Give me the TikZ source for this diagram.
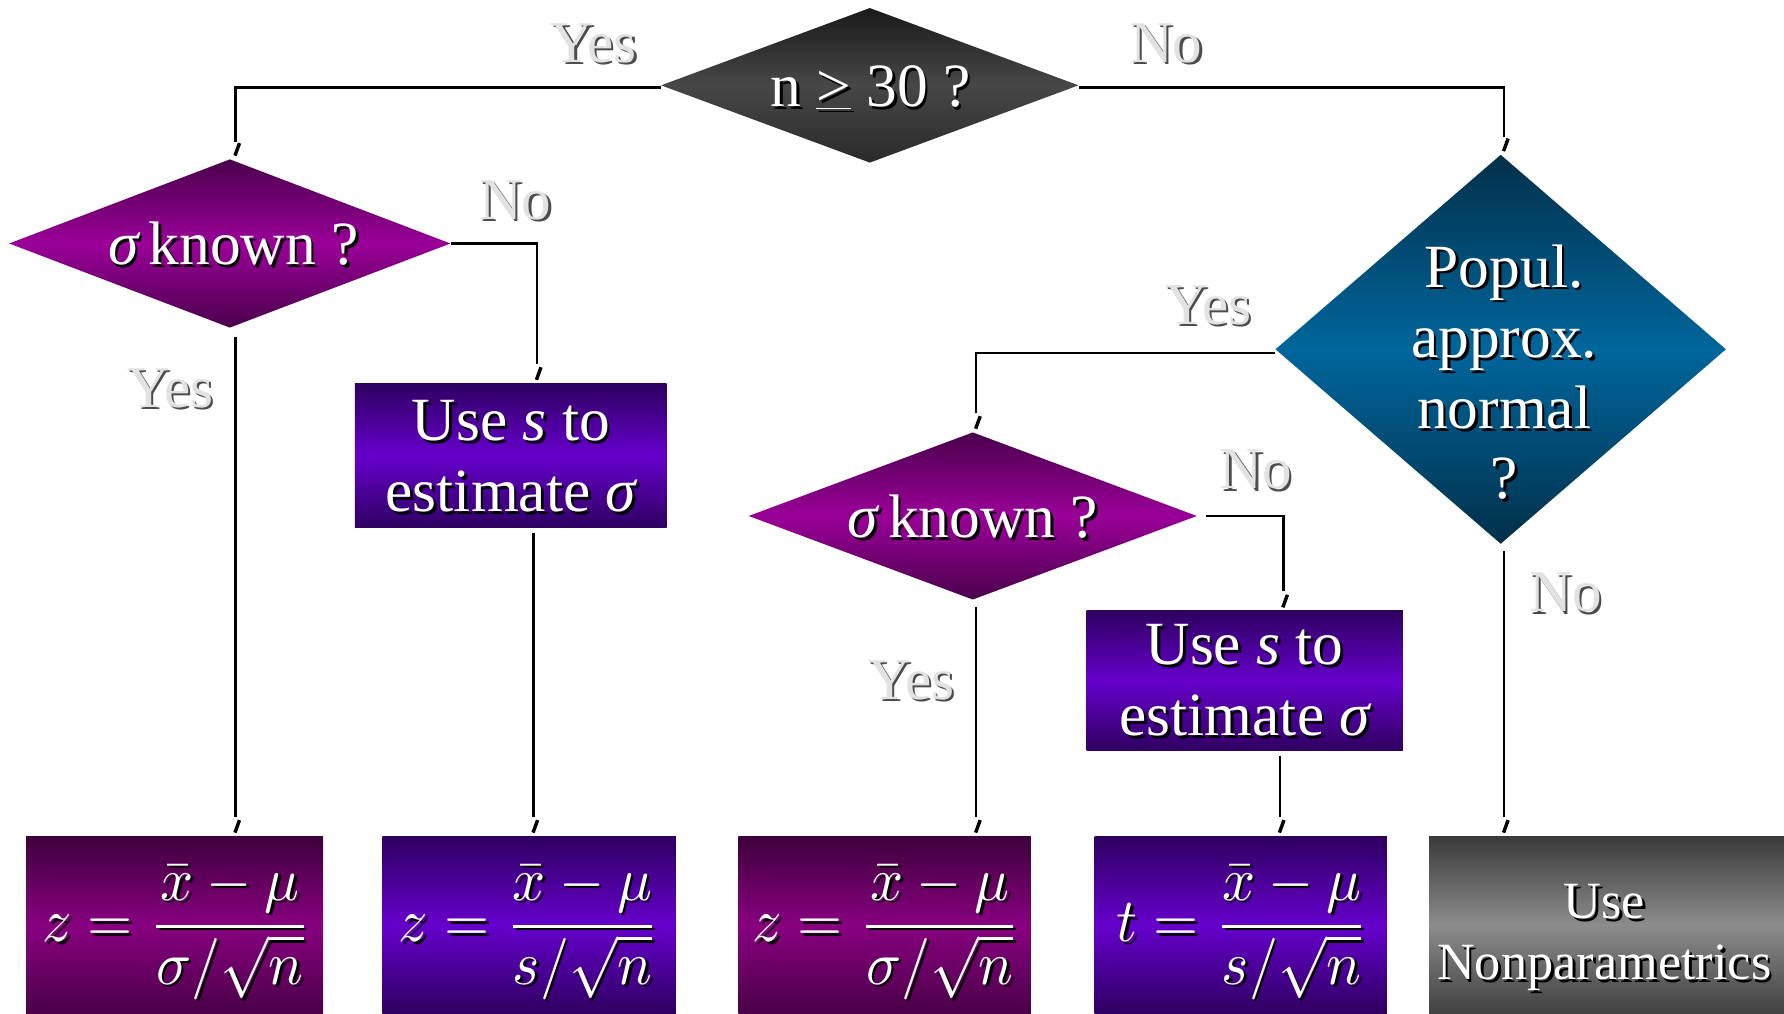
\documentclass[tikz,border=0pt]{standalone}
\usepackage{fontspec}
\usepackage{graphicx}
\setmainfont{Liberation Serif}
\usetikzlibrary{shapes.geometric,calc}
\definecolor{dkT}{HTML}{1A1A1A}\definecolor{dkM}{HTML}{474747}\definecolor{dkB}{HTML}{2A2A2A}
\definecolor{mgT}{HTML}{4A004C}\definecolor{mgM}{HTML}{9A0098}
\definecolor{mbT}{HTML}{3E003C}\definecolor{mbM}{HTML}{880080}\definecolor{mbB}{HTML}{4A0048}
\definecolor{vlT}{HTML}{2E0060}\definecolor{vlM}{HTML}{6600CC}
\definecolor{tlT}{HTML}{02304A}\definecolor{tlM}{HTML}{00669C}
\definecolor{gyT}{HTML}{3A3A3A}\definecolor{gyM}{HTML}{8C8C8C}\definecolor{gyB}{HTML}{404040}
\definecolor{lblc}{HTML}{E2E2E2}
\newcommand\tk[1]{\draw[tickst] ($(#1)+(3.5,-14)$) -- ($(#1)+(-0.5,-3)$);}
\newcommand\stxt[4][]{%
  \node[txt,#1,text=black] (#2s) at ($(#3)+(2.5,2.5)$) {#4};
  \node[txt,#1] (#2) at (#3) {#4};}
\newcommand\slbl[3]{%
  \node[lbl,text=black!70] (#1s) at ($(#2)+(2,2)$) {#3};
  \node[lbl] (#1) at (#2) {#3};}
\newcommand\fm[1]{\scalebox{5.1}[5.4]{$\displaystyle #1$}}
\newcommand\isig{{\itshape σ}}
\tikzset{
  conn/.style={line width=2pt, draw=black},
  tickst/.style={line width=3pt, draw=black},
  diam/.style={diamond, inner sep=0pt, draw=none},
  boxst/.style={rectangle, inner sep=0pt, draw=none},
  txt/.style={text=white, font=\fontsize{54}{62}\selectfont, align=center, inner sep=0pt},
  lbl/.style={text=lblc, font=\fontsize{52}{60}\selectfont, inner sep=0pt},
  fml/.style={text=white, font=\fontsize{10}{12}\selectfont, inner sep=0pt},
  darkfill/.style={top color=dkT, bottom color=dkB, middle color=dkM},
  magfill/.style={top color=mgT, bottom color=mgT, middle color=mgM},
  magbox/.style={top color=mbT, bottom color=mbB, middle color=mbM},
  vltfill/.style={top color=vlT, bottom color=vlT, middle color=vlM},
  tealfill/.style={top color=tlT, bottom color=tlT, middle color=tlM},
  grayfill/.style={top color=gyT, bottom color=gyB, middle color=gyM},
}
\begin{document}
\begin{tikzpicture}[x=1pt,y=-1pt]
\useasboundingbox[fill=white] (0,0) rectangle (1568,891);
% shapes
\node[diam,darkfill,minimum width=367pt,minimum height=136pt] (D0) at (764.5,75) {};
\node[diam,magfill,minimum width=388pt,minimum height=148pt] (D1) at (202,214) {};
\node[diam,tealfill,minimum width=396pt,minimum height=342pt] (D2) at (1319,307) {};
\node[diam,magfill,minimum width=394pt,minimum height=147pt] (D3) at (855,453.5) {};
\node[boxst,vltfill,minimum width=274pt,minimum height=127pt] (B1) at (449,400.5) {};
\node[boxst,vltfill,minimum width=278pt,minimum height=123pt] (B3) at (1094,598.5) {};
\node[boxst,magbox,minimum width=261pt,minimum height=156pt] (Z1) at (153.5,813) {};
\node[boxst,vltfill,minimum width=258pt,minimum height=156pt] (Z2) at (465,813) {};
\node[boxst,magbox,minimum width=257pt,minimum height=156pt] (Z3) at (777.5,813) {};
\node[boxst,vltfill,minimum width=257pt,minimum height=156pt] (T) at (1090.5,813) {};
\node[boxst,grayfill,minimum width=312pt,minimum height=156pt] (NP) at (1412,813) {};
% texts
\stxt{tD0}{765,77}{n \underline{>} 30 ?}
\stxt{tD1}{205,214}{\isig\,known ?}
\stxt{tD3}{855,454}{\isig\,known ?}
\stxt{tD2}{1322,327}{Popul.\\approx.\\normal\\?}
\stxt{tB1}{449,401}{Use \textit{s} to\\estimate \isig}
\stxt{tB3}{1094,598}{Use \textit{s} to\\estimate \isig}
\stxt[font=\fontsize{46}{54}\selectfont]{tNP}{1410,824}{Use\\Nonparametrics}
\stxt[fml]{tZ1}{155,819}{\fm{z=\frac{\bar{x}-\mu}{\sigma/\sqrt{n}}}}
\stxt[fml]{tZ2}{465,819}{\fm{z=\frac{\bar{x}-\mu}{s/\sqrt{n}}}}
\stxt[fml]{tZ3}{779,819}{\fm{z=\frac{\bar{x}-\mu}{\sigma/\sqrt{n}}}}
\stxt[fml]{tT}{1092,819}{\fm{t=\frac{\bar{x}-\mu}{s/\sqrt{n}}}}
% labels
\slbl{y1}{522,38}{Yes}
\slbl{n1}{1025,38}{No}
\slbl{n2}{453,176}{No}
\slbl{y2}{150,341}{Yes}
\slbl{y3}{1062,268}{Yes}
\slbl{n3}{1104,413}{No}
\slbl{y4}{801,598}{Yes}
\slbl{n4}{1376,521}{No}
% target coordinates
\coordinate (c1) at ($(D1.north)+(5,0)$);
\coordinate (c2) at ($(D2.north)+(3,0)$);
\coordinate (c3) at ($(B1.north)+(23,0)$);
\coordinate (c4) at ($(Z1.north -| D1.south)+(5,0)$);
\coordinate (c5) at ($(Z2.north)+(4,0)$);
\coordinate (c6) at ($(D3.north)+(3,0)$);
\coordinate (c7) at ($(B3.north)+(34,0)$);
\coordinate (c8) at ($(Z3.north -| D3.south)+(3,0)$);
\coordinate (c9) at ($(T.north -| B3.south)+(31,0)$);
\coordinate (c10) at ($(NP.north -| D2.south)+(3,0)$);
% connectors
\draw[conn,shorten >=15pt] ([yshift=-2pt]D0.west) -| (c1); \tk{c1}
\draw[conn,shorten >=15pt] ([yshift=-2pt]D0.east) -| (c2); \tk{c2}
\draw[conn,shorten >=17pt] (D1.east) -| (c3); \tk{c3}
\draw[conn,shorten <=8pt,shorten >=17pt] (D1.south -| c4) -- (c4); \tk{c4}
\draw[conn,shorten <=4pt,shorten >=17pt] (B1.south -| c5) -- (c5); \tk{c5}
\draw[conn,shorten >=17pt] ([yshift=-3pt]D2.west) -| (c6); \tk{c6}
\draw[conn,shorten <=8pt,shorten >=17pt] (D3.east) -| (c7); \tk{c7}
\draw[conn,shorten <=6pt,shorten >=17pt] (D3.south -| c8) -- (c8); \tk{c8}
\draw[conn,shorten <=4pt,shorten >=17pt] (B3.south -| c9) -- (c9); \tk{c9}
\draw[conn,shorten <=6pt,shorten >=17pt] (D2.south -| c10) -- (c10); \tk{c10}
\end{tikzpicture}
\end{document}
